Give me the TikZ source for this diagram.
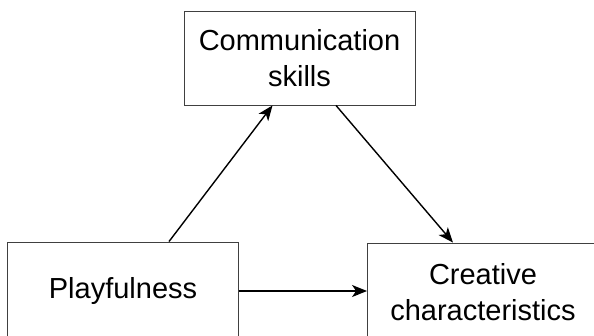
\documentclass[tikz,border=0pt]{standalone}
\usepackage{fontspec}
\setmainfont{Liberation Sans}
\usetikzlibrary{arrows.meta}

\begin{document}
\begin{tikzpicture}[x=1pt,y=-1pt,
		every node/.style={draw=black!75,line width=0.9pt,align=center,minimum width=231pt,
			font=\fontsize{29}{36}\selectfont},
		link/.style={line width=1.4pt,-{Stealth[length=15pt,width=12pt,inset=4pt]}}]
			\clip (0,0) rectangle (594,335);
			\node[minimum height=94pt] (comm) at (299.5,58) {Communication\\skills};
			\node[minimum height=98pt] (play) at (123,291) {Playfulness};
			\node[minimum height=98pt] (crea) at (483,292) {Creative\\characteristics};
			\draw[link] ([xshift=46pt]play.north) -- ([xshift=-27pt]comm.south);
			\draw[link] ([xshift=36.5pt]comm.south) -- ([xshift=-30pt]crea.north);
			\draw[link] (play.east) -- (play.east -| crea.west);
		\end{tikzpicture}
\end{document}
